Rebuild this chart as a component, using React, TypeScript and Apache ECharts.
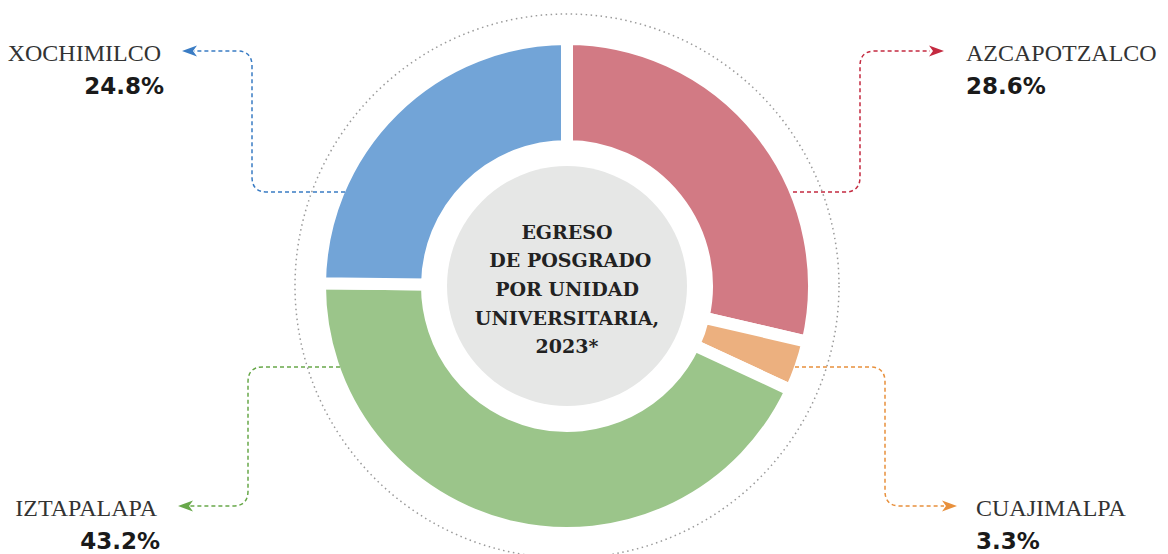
import React, { useEffect, useRef } from "react";
import * as echarts from "echarts";

const names = ["AZCAPOTZALCO", "CUAJIMALPA", "IZTAPALAPA", "XOCHIMILCO"];
const values = [28.6, 3.3, 43.2, 24.8];
const sliceColors = ["#D27A84", "#ECB07F", "#9BC58A", "#72A4D7"];
const lineColors = ["#C42A40", "#E8903C", "#68A84A", "#3A7CC4"];
const centerLines = ["EGRESO", " DE POSGRADO", "POR UNIDAD", "UNIVERSITARIA,", "2023*"];

// connector paths (annotation geometry)
const connectorPaths = [
  "M793 192 H845 Q860 192 860 177 V66 Q860 51 875 51 H930",
  "M795 367 H870 Q885 367 885 382 V491 Q885 506 900 506 H944",
  "M340 367 H263 Q248 367 248 382 V491 Q248 506 233 506 H190",
  "M345 192 H267 Q252 192 252 177 V66 Q252 51 237 51 H194",
];
// arrows: tip x, y, direction (1 right, -1 left)
const arrows: [number, number, number][] = [
  [944, 51, 1],
  [957, 506, 1],
  [178, 506, -1],
  [182, 51, -1],
];
// label anchors: x, name y, pct y, align
const labelPos: [number, number, number, "left" | "right"][] = [
  [966, 53, 86, "left"],
  [976, 508, 541, "left"],
  [157, 508, 541, "right"],
  [161, 53, 86, "right"],
];

connectorPaths.forEach((d, i) => {
  echarts.graphic.registerShape("conn" + i, echarts.graphic.extendPath(d, {}));
});

export default function App() {
  const ref = useRef<HTMLDivElement>(null);
  useEffect(() => {
    if (!ref.current) return;
    const chart = echarts.init(ref.current, null, { renderer: "svg" });
    const cx = 567;
    const cy = 286;
    const graphic: any[] = [];
    graphic.push({
      type: "circle",
      shape: { cx, cy, r: 272 },
      style: { fill: "none", stroke: "#9a9a9a", lineWidth: 1.5, lineDash: [1.5, 3.5] },
      z: 10,
    });
    graphic.push({
      type: "circle",
      shape: { cx, cy, r: 120 },
      style: { fill: "#E6E7E6" },
      z: 10,
    });
    graphic.push({
      type: "text",
      x: cx,
      y: 289,
      style: {
        text: centerLines.join("\n"),
        fill: "#222222",
        font: "bold 19px 'DejaVu Serif'",
        lineHeight: 28.6,
        align: "center",
        verticalAlign: "middle",
      },
      z: 11,
    });
    names.forEach((n, i) => {
      graphic.push({
        type: "conn" + i,
        x: 0,
        y: 0,
        style: { fill: "none", stroke: lineColors[i], lineWidth: 1.5, lineDash: [4, 3] },
        z: 5,
      });
      const [tx, ty, dir] = arrows[i];
      graphic.push({
        type: "polygon",
        shape: {
          points: [
            [tx, ty],
            [tx - dir * 15, ty - 5.5],
            [tx - dir * 11, ty],
            [tx - dir * 15, ty + 5.5],
          ],
        },
        style: { fill: lineColors[i] },
        z: 6,
      });
      const [lx, ny, py, al] = labelPos[i];
      graphic.push({
        type: "text",
        x: lx,
        y: ny,
        style: {
          text: n,
          fill: "#333333",
          font: "24px 'Liberation Serif'",
          align: al,
          verticalAlign: "middle",
        },
        z: 12,
      });
      graphic.push({
        type: "text",
        x: lx + (al === "right" ? 3 : 0),
        y: py,
        style: {
          text: values[i].toFixed(1) + "%",
          fill: "#1a1a1a",
          font: "bold 23px 'DejaVu Sans'",
          align: al,
          verticalAlign: "middle",
        },
        z: 12,
      });
    });
    chart.setOption({
      animation: false,
      graphic,
      series: [
        {
          type: "pie",
          center: [cx, cy],
          radius: [140, 247],
          startAngle: 90,
          clockwise: true,
          silent: true,
          label: { show: false },
          labelLine: { show: false },
          itemStyle: { borderColor: "#ffffff", borderWidth: 12 },
          data: names.map((n, i) => ({
            name: n,
            value: values[i],
            itemStyle: { color: sliceColors[i] },
          })),
        },
      ],
    });
    return () => chart.dispose();
  }, []);
  return (
    <div
      ref={ref}
      style={{ position: "fixed", left: 0, top: 0, width: 1168, height: 554, background: "#ffffff" }}
    />
  );
}
